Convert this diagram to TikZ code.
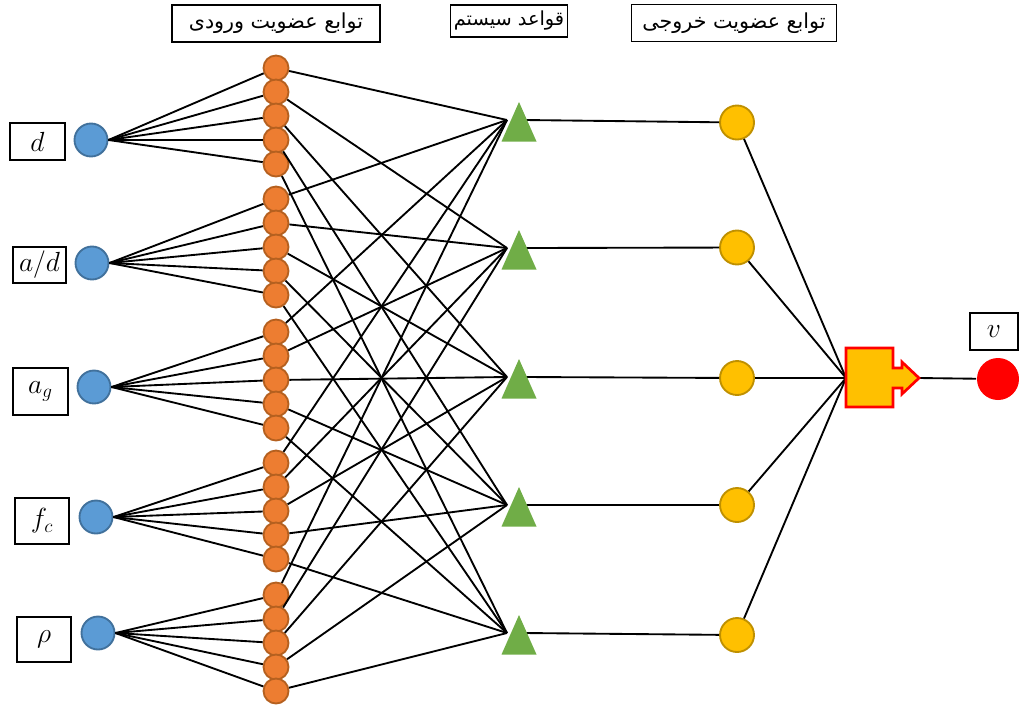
\documentclass[tikz,border=0pt]{standalone}
\usepackage{amsmath}
\usepackage{fontspec}
\newfontfamily\farsi[Script=Arabic]{DejaVu Sans}
\TeXXeTstate=1
\usepackage{tikz}
\definecolor{inblue}{HTML}{5B9BD5}
\definecolor{inblueline}{HTML}{41719C}
\definecolor{mforange}{HTML}{ED7D31}
\definecolor{mforangeline}{HTML}{B5601F}
\definecolor{rulegreen}{HTML}{70AD47}
\definecolor{outyellow}{HTML}{FFC000}
\definecolor{outyellowline}{HTML}{BF9000}
\tikzset{
  inp/.style={circle, fill=inblue, draw=inblueline, minimum size=24.75pt, inner sep=0pt},
  mf/.style={circle, fill=mforange, draw=mforangeline, minimum size=18.75pt, inner sep=0pt},
  outmf/.style={circle, fill=outyellow, draw=outyellowline, minimum size=25.5pt, inner sep=0pt},
  varbox/.style={draw, line width=0.9pt, inner sep=0pt, font=\fontsize{22}{26}\selectfont},
  titlebox/.style={draw, line width=0.9pt, inner sep=0pt, font=\farsi\fontsize{15.5}{18}\selectfont}
}

\begin{document}
\begin{tikzpicture}[x=0.75pt, y=-0.75pt, line width=1.4pt]
  \useasboundingbox (0,0) rectangle (1019,708);
  \node[titlebox, minimum width=156pt, minimum height=27.75pt] (t1) at (276,23.5) {\beginR توابع عضویت ورودی\endR};
  \node[titlebox, minimum width=88pt, minimum height=24pt, font=\farsi\fontsize{14.5}{17}\selectfont] (t2) at (509,21) {\beginR قواعد سیستم\endR};
  \node[titlebox, minimum width=153.75pt, minimum height=27.75pt] (t3) at (734,23.3) {\beginR توابع عضویت خروجی\endR};

  \node[varbox, minimum width=41.25pt, minimum height=27.75pt] (ld) at (37.5,141.5) {$d$};
  \node[varbox, minimum width=39.75pt, minimum height=27pt] (lad) at (39.5,265) {$a/d$};
  \node[varbox, minimum width=41.25pt, minimum height=35.25pt] (lag) at (40.5,391.5) {$a_g$};
  \node[varbox, minimum width=40.5pt, minimum height=34.5pt] (lfc) at (42,521) {$f_c$};
  \node[varbox, minimum width=40.5pt, minimum height=33.75pt] (lrho) at (44,639.5) {$\rho$};
  \node[varbox, minimum width=36pt, minimum height=27.75pt] (lv) at (994,331.5) {$v$};

  \foreach \g/\bx/\by/\ys in {1/91/140/68, 2/92/263/199, 3/94/387/332, 4/96/517/463, 5/98/633/595}{
    \node[inp] (b\g) at (\bx,\by) {};
    \foreach \i in {1,...,5}
      \node[mf] (m\g\i) at (276,{\ys+24*(\i-1)}) {};
  }

  \foreach \i/\ry/\oy in {1/120/122.5, 2/248/247.5, 3/377/378, 4/505/505, 5/633/635}{
    \coordinate (r\i) at (507,\ry);
    \coordinate (s\i) at (525,\ry);
    \node[outmf] (o\i) at (737,\oy) {};
  }
  \coordinate (agg) at (846,378);
  \coordinate (aggout) at (919,378);
  \node[circle, fill=red, minimum size=31.5pt, inner sep=0pt] (v) at (998,379) {};

  \foreach \g in {1,...,5}
    \foreach \i in {1,...,5}{
      \draw (b\g.east) -- (m\g\i);
      \draw (m\g\i) -- (r\i);
    }
  \foreach \i in {1,...,5}{
    \draw (s\i) -- (o\i);
    \draw (o\i) -- (agg);
    \fill[rulegreen] (r\i) ++(12,-18) -- ++(17.5,39.5) -- ++(-35,0) -- cycle;
  }
  \draw (aggout) -- (v);
  \filldraw[draw=red, fill=outyellow, line width=2pt] (846,348) -- (893,348) -- (893,368) -- (902,368) -- (902,362)
    -- (aggout) -- (902,394) -- (902,388) -- (893,388) -- (893,407) -- (846,407) -- cycle;
\end{tikzpicture}
\end{document}
